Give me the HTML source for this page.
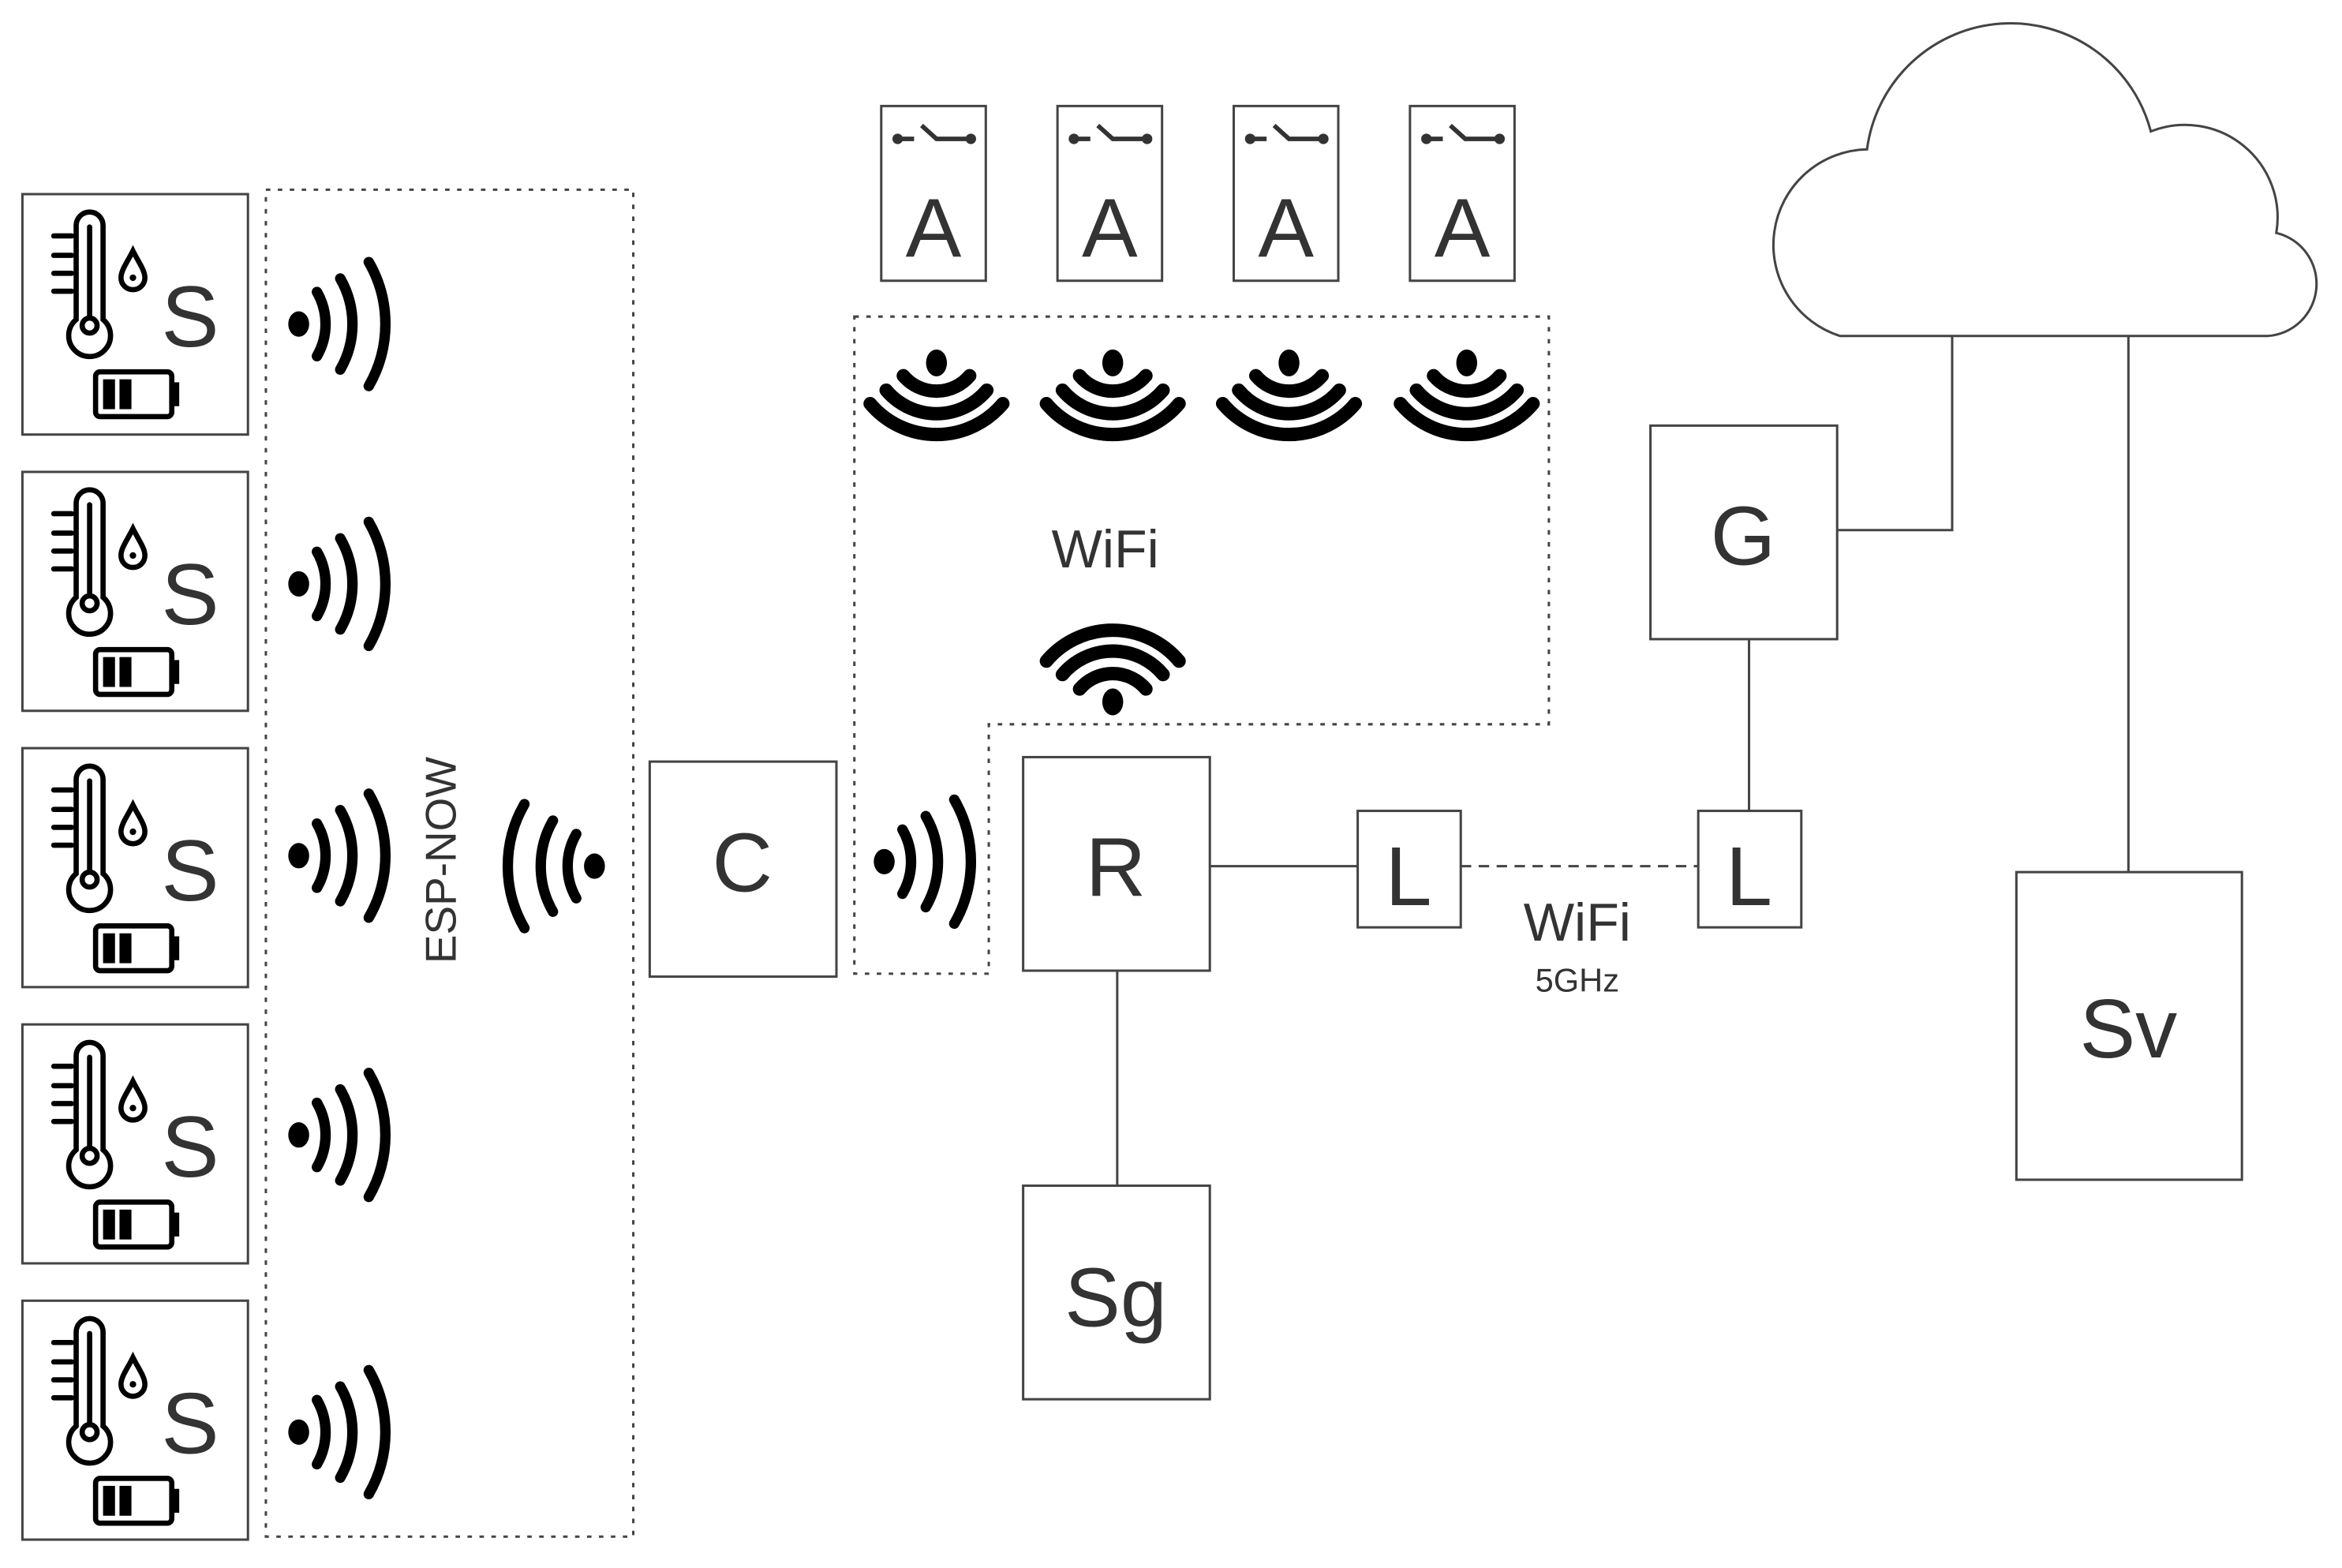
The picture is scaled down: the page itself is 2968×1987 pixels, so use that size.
<!DOCTYPE html>
<html><head><meta charset="utf-8"><style>
html,body{margin:0;padding:0;background:#fff;}
svg{display:block;}
text{font-family:"Liberation Sans",Arial,sans-serif;fill:#333;}
</style></head><body>
<svg width="2968" height="1987" viewBox="0 0 1568 1050" preserveAspectRatio="none" xmlns="http://www.w3.org/2000/svg">
<defs>
  <g id="wn">
    <ellipse cx="0" cy="0" rx="7" ry="8.5" fill="#000"/>
    <g fill="none" stroke="#000" stroke-width="7" stroke-linecap="round">
      <path d="M12.2,-21.5 A43,43 0 0 1 12.2,21.5"/>
      <path d="M27.8,-30.5 A61,61 0 0 1 27.8,30.5"/>
      <path d="M46.9,-41.5 A83,83 0 0 1 46.9,41.5"/>
    </g>
  </g>
  <g id="ww">
    <ellipse cx="0" cy="0" rx="9" ry="7" fill="#000"/>
    <g fill="none" stroke="#000" stroke-width="9" stroke-linecap="round">
      <path d="M8.6,-22.2 A29,29 0 0 1 8.6,22.2"/>
      <path d="M18.3,-33.7 A44,44 0 0 1 18.3,33.7"/>
      <path d="M27.3,-44.4 A58,58 0 0 1 27.3,44.4"/>
    </g>
  </g>
  <g id="sicon">
    <g fill="none" stroke="#000" stroke-width="3.5" stroke-linecap="round">
      <path d="M51,84 L51,21 A9,9 0 0 1 69,21 L69,84 A14,14 0 1 1 51,84 Z"/>
      <line x1="60" y1="22" x2="60" y2="82"/>
      <circle cx="60" cy="88" r="5"/>
      <line x1="36" y1="28" x2="48" y2="28"/>
      <line x1="36" y1="41" x2="48" y2="41"/>
      <line x1="36" y1="53" x2="48" y2="53"/>
      <line x1="36" y1="65" x2="48" y2="65"/>
      <path d="M89,38 C85,46 81,51 81,56 A8,8 0 0 0 97,56 C97,51 93,46 89,38 Z"/>
      <rect x="64" y="119" width="51" height="30" rx="3"/>
    </g>
    <circle cx="89" cy="56" r="2.2" fill="#000"/>
    <rect x="115" y="126" width="5" height="16" fill="#000"/>
    <rect x="69" y="124" width="8" height="20" fill="#000"/>
    <rect x="80" y="124" width="8" height="20" fill="#000"/>
  </g>
  <g id="sw" stroke="#333" fill="#333" stroke-width="3">
    <circle cx="11" cy="22" r="3.5" stroke="none"/>
    <line x1="11" y1="22" x2="22" y2="22"/>
    <path d="M27,13 L37,22 L60,22" fill="none"/>
    <circle cx="60" cy="22" r="3.5" stroke="none"/>
  </g>
</defs>

<g fill="#fff" stroke="#444" stroke-width="1.6">
  <rect x="15" y="130" width="151" height="161"/>
  <rect x="15" y="316" width="151" height="160"/>
  <rect x="15" y="501" width="151" height="160"/>
  <rect x="15" y="686" width="151" height="160"/>
  <rect x="15" y="871" width="151" height="160"/>
</g>
<use href="#sicon" x="0" y="130"/>
<use href="#sicon" x="0" y="316"/>
<use href="#sicon" x="0" y="501"/>
<use href="#sicon" x="0" y="686"/>
<use href="#sicon" x="0" y="871"/>
<g font-size="58">
  <text x="108" y="232">S</text>
  <text x="108" y="418">S</text>
  <text x="108" y="603">S</text>
  <text x="108" y="788">S</text>
  <text x="108" y="973">S</text>
</g>

<g fill="none" stroke="#444" stroke-width="1.6" stroke-dasharray="3 5">
  <rect x="178" y="127" width="246" height="902"/>
  <path d="M572,212 L1037,212 L1037,485 L662,485 L662,652 L572,652 Z"/>
  <line x1="978" y1="580" x2="1137" y2="580" stroke-dasharray="7 5"/>
</g>

<use href="#wn" x="200" y="217"/>
<use href="#wn" x="200" y="391"/>
<use href="#wn" x="200" y="573"/>
<use href="#wn" x="200" y="760"/>
<use href="#wn" x="200" y="959"/>
<use href="#wn" transform="translate(398,580) rotate(180)"/>
<use href="#wn" x="592" y="577"/>

<text transform="translate(305,576) rotate(-90)" font-size="29" text-anchor="middle">ESP-NOW</text>

<g fill="#fff" stroke="#444" stroke-width="1.6">
  <rect x="435" y="510" width="125" height="144"/>
  <rect x="590" y="71" width="70" height="117"/>
  <rect x="708" y="71" width="70" height="117"/>
  <rect x="826" y="71" width="70" height="117"/>
  <rect x="944" y="71" width="70" height="117"/>
  <rect x="685" y="507" width="125" height="143"/>
  <rect x="909" y="543" width="69" height="78"/>
  <rect x="1137" y="543" width="69" height="78"/>
  <rect x="1105" y="285" width="125" height="143"/>
  <rect x="685" y="794" width="125" height="143"/>
  <rect x="1350" y="584" width="151" height="206"/>
</g>
<use href="#sw" x="590" y="71"/>
<use href="#sw" x="708" y="71"/>
<use href="#sw" x="826" y="71"/>
<use href="#sw" x="944" y="71"/>
<g font-size="56" text-anchor="middle">
  <text x="625" y="172">A</text>
  <text x="743" y="172">A</text>
  <text x="861" y="172">A</text>
  <text x="979" y="172">A</text>
  <text x="497" y="597">C</text>
  <text x="747" y="600">R</text>
  <text x="943" y="606">L</text>
  <text x="1171" y="606">L</text>
  <text x="1167" y="378">G</text>
  <text x="747" y="888">Sg</text>
  <text x="1425" y="708">Sv</text>
</g>

<use href="#ww" transform="translate(627,243) rotate(90)"/>
<use href="#ww" transform="translate(745,243) rotate(90)"/>
<use href="#ww" transform="translate(863,243) rotate(90)"/>
<use href="#ww" transform="translate(982,243) rotate(90)"/>
<use href="#ww" transform="translate(745,470) rotate(-90)"/>

<text x="740" y="380" font-size="36" text-anchor="middle">WiFi</text>
<text x="1056" y="630" font-size="36" text-anchor="middle">WiFi</text>
<text x="1056" y="664" font-size="22" text-anchor="middle">5GHz</text>

<g fill="none" stroke="#444" stroke-width="1.6">
  <line x1="810" y1="580" x2="909" y2="580"/>
  <line x1="748" y1="650" x2="748" y2="794"/>
  <line x1="1171" y1="428" x2="1171" y2="543"/>
  <polyline points="1230,355 1307,355 1307,223"/>
  <line x1="1425" y1="225" x2="1425" y2="584"/>
  <path d="M1232,225 L1518,225 A35,35 0 0 0 1524,156 A62,62 0 0 0 1440,88 A97,97 0 0 0 1250,100 A64,64 0 0 0 1232,225 Z" fill="#fff"/>
</g>
</svg>
</body></html>
